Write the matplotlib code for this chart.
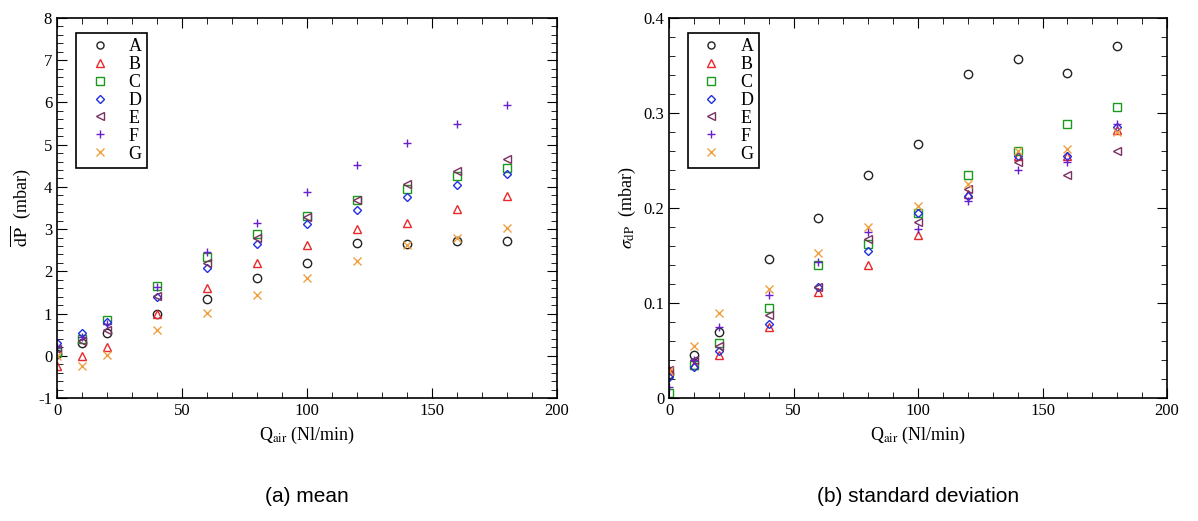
import matplotlib.pyplot as plt
from matplotlib.ticker import MultipleLocator, FuncFormatter

plt.rcParams["font.family"] = "Liberation Serif"
plt.rcParams["mathtext.fontset"] = "stix"
plt.rcParams["axes.unicode_minus"] = False

q_air = [0, 10, 20, 40, 60, 80, 100, 120, 140, 160, 180]
labels = ["A", "B", "C", "D", "E", "F", "G"]

mean_dp = {
    "A": [0.05, 0.3, 0.55, 1.0, 1.35, 1.85, 2.2, 2.68, 2.65, 2.72, 2.73],
    "B": [-0.25, 0.0, 0.2, 1.0, 1.6, 2.2, 2.62, 3.0, 3.15, 3.47, 3.78],
    "C": [0.1, 0.4, 0.85, 1.65, 2.35, 2.88, 3.3, 3.68, 3.95, 4.25, 4.45],
    "D": [0.3, 0.55, 0.8, 1.4, 2.08, 2.65, 3.12, 3.45, 3.75, 4.05, 4.3],
    "E": [0.15, 0.35, 0.6, 1.42, 2.2, 2.8, 3.28, 3.7, 4.08, 4.38, 4.65],
    "F": [0.2, 0.45, 0.75, 1.62, 2.45, 3.15, 3.87, 4.52, 5.05, 5.5, 5.95],
    "G": [0.0, -0.25, 0.02, 0.62, 1.02, 1.45, 1.85, 2.25, 2.62, 2.78, 3.02],
}
std_dp = {
    "A": [0.025, 0.045, 0.07, 0.146, 0.19, 0.235, 0.267, 0.341, 0.357, 0.342, 0.371],
    "B": [0.03, 0.035, 0.045, 0.075, 0.112, 0.14, 0.172, 0.215, 0.255, 0.255, 0.282],
    "C": [0.005, 0.035, 0.058, 0.095, 0.14, 0.162, 0.195, 0.235, 0.26, 0.288, 0.306],
    "D": [0.022, 0.033, 0.05, 0.078, 0.117, 0.155, 0.195, 0.213, 0.255, 0.255, 0.285],
    "E": [0.03, 0.04, 0.055, 0.087, 0.117, 0.167, 0.185, 0.22, 0.248, 0.235, 0.26],
    "F": [0.012, 0.04, 0.075, 0.108, 0.143, 0.175, 0.178, 0.207, 0.24, 0.248, 0.288],
    "G": [0.028, 0.055, 0.09, 0.115, 0.153, 0.18, 0.202, 0.225, 0.26, 0.262, 0.28],
}

STYLE = {
    "A": ("o", "#222222"),
    "B": ("^", "#e8282a"),
    "C": ("s", "#1a9a1a"),
    "D": ("D", "#2030e0"),
    "E": ("<", "#7a3060"),
    "F": ("+", "#6a20c8"),
    "G": ("x", "#f0a040"),
}

fig = plt.figure(figsize=(11.98, 5.21), dpi=100)
ax1 = fig.add_axes([57 / 1198, 1 - 398 / 521, 500 / 1198, 380 / 521])
ax2 = fig.add_axes([669 / 1198, 1 - 398 / 521, 498 / 1198, 380 / 521])

plain = FuncFormatter(lambda v, pos: f"{v:g}")


def draw(ax, data):
    for lab in labels:
        m, c = STYLE[lab]
        filled = m in ("+", "x")
        ax.plot(q_air, data[lab], linestyle="none", marker=m,
                markersize=6 if m != "D" else 4.5,
                markerfacecolor="none" if not filled else c,
                markeredgecolor=c, markeredgewidth=1.0, label=lab)
    ax.set_xlim(0, 200)
    ax.xaxis.set_major_locator(MultipleLocator(50))
    ax.xaxis.set_minor_locator(MultipleLocator(10))
    ax.yaxis.set_major_formatter(plain)
    ax.tick_params(which="both", direction="in", top=True, right=True, labelsize=12)
    ax.tick_params(which="major", length=7)
    ax.tick_params(which="minor", length=4)
    for s in ax.spines.values():
        s.set_linewidth(1.2)
    ax.set_xlabel(r"Q$_{\rm air}$ (Nl/min)", fontsize=13)
    leg = ax.legend(loc="upper left", bbox_to_anchor=(0.02, 0.985), fontsize=13,
                    handletextpad=0.6, labelspacing=0.05, borderpad=0.3,
                    markerscale=0.85, fancybox=False, edgecolor="black", framealpha=1)
    leg.get_frame().set_linewidth(1.2)


draw(ax1, mean_dp)
ax1.set_ylim(-1, 8)
ax1.yaxis.set_major_locator(MultipleLocator(1))
ax1.yaxis.set_minor_locator(MultipleLocator(0.2))
ax1.set_ylabel(r"$\overline{\rm dP}$  (mbar)", fontsize=13)

draw(ax2, std_dp)
ax2.set_ylim(0, 0.4)
ax2.yaxis.set_major_locator(MultipleLocator(0.1))
ax2.yaxis.set_minor_locator(MultipleLocator(0.02))
ax2.set_ylabel(r"$\sigma_{\rm dP}$  (mbar)", fontsize=13)

fig.text(307 / 1198, 1 - 497 / 521, "(a) mean", ha="center", va="center",
         fontsize=15, family="Liberation Sans")
fig.text(918 / 1198, 1 - 497 / 521, "(b) standard deviation", ha="center", va="center",
         fontsize=15, family="Liberation Sans")

fig.savefig("out.png", dpi=100, facecolor="white")
